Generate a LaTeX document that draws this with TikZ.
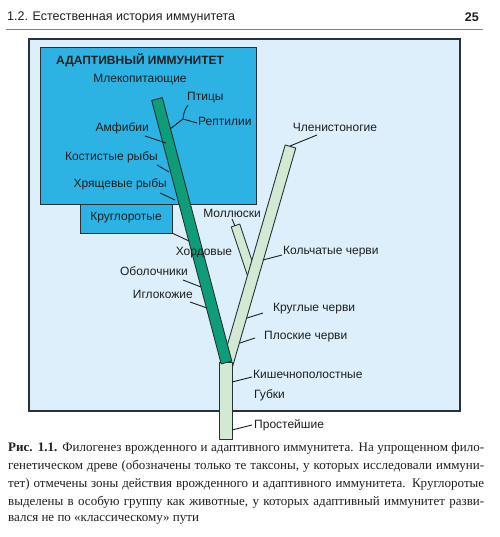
\documentclass[tikz,border=0pt]{standalone}
\usepackage{fontspec}
\setmainfont{Liberation Serif}
\newfontfamily\labfont{Liberation Sans}
\usetikzlibrary{calc}

\definecolor{paleblue}{HTML}{DCEFFA}
\definecolor{adapt}{HTML}{2DB3E3}
\definecolor{chordgreen}{HTML}{0F9C78}
\definecolor{palegreen}{HTML}{D3E9D3}
\definecolor{edge}{HTML}{263238}
\definecolor{ink}{HTML}{1E1E1E}

\tikzset{
  taxon/.style={font=\labfont\fontsize{12}{14}\selectfont, text=ink, inner sep=0pt},
  tick/.style={draw=ink, line width=0.9pt},
  bar/.style={draw=edge, line width=0.9pt, line join=round},
  capline/.style={anchor=west, inner sep=0pt, text=ink, font=\fontsize{13}{15}\selectfont},
}
% a branch of the tree: from, to, half width, colour
\newcommand{\stembar}[4]{%
  \draw[bar, fill=#4] ($(#1)!#3!90:(#2)$) -- ($(#1)!#3!-90:(#2)$)
    -- ($(#2)!#3!90:(#1)$) -- ($(#2)!#3!-90:(#1)$) -- cycle;}

\begin{document}
\begin{tikzpicture}[x=1pt, y=-1pt]
\useasboundingbox (0,0) rectangle (499,537);

% running head
\node[font=\labfont\fontsize{12.5}{14}\selectfont, text=ink, anchor=west, inner sep=0pt] (head) at (7,17) {1.2. Естественная история иммунитета};
\node[font=\labfont\bfseries\fontsize{12.5}{14}\selectfont, text=ink, anchor=east, inner sep=0pt] (page) at (479,17) {25};
\coordinate (rule-l) at (6,29);
\coordinate (rule-r) at (483,29);
\draw[gray, line width=0.8pt] (rule-l) -- (rule-r);

% zones of immunity
\draw[edge, line width=1.6pt, fill=paleblue] (29,39) rectangle (460,411);
\draw[edge, line width=0.8pt, fill=adapt] (40,47) rectangle (256,204);
\draw[edge, line width=0.8pt, fill=adapt] (80,204) rectangle (172,233);

% tree
\coordinate (ch-top) at (157,99);
\coordinate (ch-bot) at (226.5,362.5);
\coordinate (pr-top) at (290.5,146.5);
\coordinate (pr-bot) at (227,366);
\coordinate (mo-top) at (235.5,225.5);
\coordinate (mo-bot) at (252.3,276);
\stembar{mo-top}{mo-bot}{4.5pt}{palegreen}
\stembar{pr-top}{pr-bot}{5.5pt}{palegreen}
\draw[bar, fill=palegreen] (219,362) rectangle (232,439);
\stembar{ch-top}{ch-bot}{5.5pt}{chordgreen}

% labels
\node[taxon, font=\labfont\bfseries\fontsize{12}{14}\selectfont, anchor=west] (adaptive) at (56,60) {АДАПТИВНЫЙ ИММУНИТЕТ};
\node[taxon] (mammals) at (140,80) {Млекопитающие};
\node[taxon, anchor=west] (birds) at (187,98) {Птицы};
\node[taxon, anchor=west] (reptiles) at (198,121) {Рептилии};
\node[taxon, anchor=east] (amphibia) at (149,128) {Амфибии};
\node[taxon, anchor=east] (bonyfish) at (158,157) {Костистые рыбы};
\node[taxon, anchor=east] (cartfish) at (167,184) {Хрящевые рыбы};
\node[taxon] (cyclostomes) at (126,218) {Круглоротые};
\node[taxon] (chordates) at (204,253) {Хордовые};
\node[taxon, anchor=east] (tunicates) at (188,271) {Оболочники};
\node[taxon, anchor=east] (echinoderms) at (193,294) {Иглокожие};
\node[taxon] (molluscs) at (232,213) {Моллюски};
\node[taxon] (arthropods) at (335,127) {Членистоногие};
\node[taxon, anchor=west] (annelids) at (283,252) {Кольчатые черви};
\node[taxon, anchor=west] (roundworms) at (273,309) {Круглые черви};
\node[taxon, anchor=west] (flatworms) at (264,337) {Плоские черви};
\node[taxon, anchor=west] (coelenterates) at (253,374) {Кишечнополостные};
\node[taxon, anchor=west] (sponges) at (254,395) {Губки};
\node[taxon, anchor=west] (protozoa) at (254,425) {Простейшие};

% ticks
\coordinate (fork) at (183,119);
\coordinate (fork-t) at (170,129);
\coordinate (birds-t) at (188,105);
\coordinate (rept-t) at (197,123);
\draw[tick] (fork-t) -- (fork) to[bend left=15] (birds-t);
\draw[tick] (fork) -- (rept-t);
\coordinate (amph-a) at (145,136);  \coordinate (amph-b) at (166,143);
\draw[tick] (amph-a) -- (amph-b);
\coordinate (bony-a) at (157,165);  \coordinate (bony-b) at (169,172);
\draw[tick] (bony-a) -- (bony-b);
\coordinate (cart-a) at (160,193);  \coordinate (cart-b) at (175,200);
\draw[tick] (cart-a) -- (cart-b);
\coordinate (cycl-a) at (172,233);  \coordinate (cycl-b) at (189,241);
\draw[tick] (cycl-a) -- (cycl-b);
\coordinate (tuni-a) at (183,280);  \coordinate (tuni-b) at (201,287);
\draw[tick] (tuni-a) -- (tuni-b);
\coordinate (echi-a) at (190,302);  \coordinate (echi-b) at (207,308);
\draw[tick] (echi-a) -- (echi-b);
\coordinate (moll-a) at (232,219);  \coordinate (moll-b) at (235,226);
\draw[tick] (moll-a) -- (moll-b);
\coordinate (arth-a) at (290,146);  \coordinate (arth-b) at (317,135);
\draw[tick] (arth-a) -- (arth-b);
\coordinate (anne-a) at (263,260);  \coordinate (anne-b) at (282,255);
\draw[tick] (anne-a) -- (anne-b);
\coordinate (roun-a) at (247,318);  \coordinate (roun-b) at (263,313);
\draw[tick] (roun-a) -- (roun-b);
\coordinate (flat-a) at (240,343);  \coordinate (flat-b) at (255,338);
\draw[tick] (flat-a) -- (flat-b);
\coordinate (coel-a) at (232,382);  \coordinate (coel-b) at (252,377);
\draw[tick] (coel-a) -- (coel-b);
\coordinate (prot-a) at (232,430);  \coordinate (prot-b) at (252,425);
\draw[tick] (prot-a) -- (prot-b);

% caption
\node[capline] (cap1) at (8,448.5) {\makebox[476pt][s]{\textbf{Рис. 1.1.} Филогенез врожденного и адаптивного иммунитета. На упрощенном фило-}};
\node[capline] (cap2) at (8,466.4) {\makebox[476pt][s]{генетическом древе (обозначены только те таксоны, у которых исследовали иммуни-}};
\node[capline] (cap3) at (8,484.3) {\makebox[476pt][s]{тет) отмечены зоны действия врожденного и адаптивного иммунитета. Круглоротые}};
\node[capline] (cap4) at (8,502.2) {\makebox[476pt][s]{выделены в особую группу как животные, у которых адаптивный иммунитет разви-}};
\node[capline] (cap5) at (8,520.1) {вался не по «классическому» пути};
\end{tikzpicture}
\end{document}
